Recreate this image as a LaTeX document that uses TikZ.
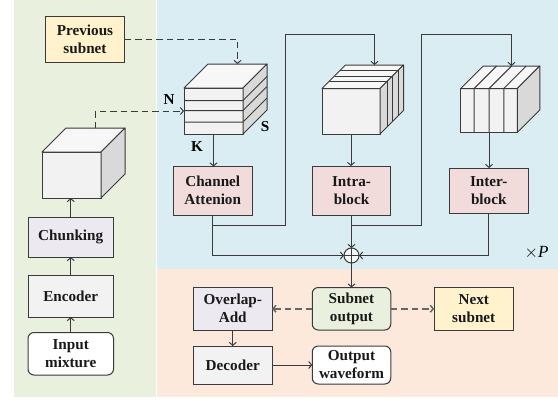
\documentclass[tikz,border=0pt]{standalone}
\usepackage{fontspec}
\setmainfont{Liberation Serif}
\usetikzlibrary{arrows.meta,calc}
\definecolor{bggreen}{HTML}{EAF0DE}
\definecolor{bgblue}{HTML}{DAEDF3}
\definecolor{bgorange}{HTML}{FCE9DC}
\definecolor{fpurple}{HTML}{ECE9F1}
\definecolor{fgray}{HTML}{F2F2F2}
\definecolor{fpink}{HTML}{F2DCDB}
\definecolor{fyellow}{HTML}{FFF2CC}
\definecolor{mline}{HTML}{3A3A3A}
\tikzset{
  mbox/.style={draw=mline,line width=1pt,align=center,inner sep=0pt,outer sep=0pt,
    font=\fontsize{15.2}{18}\selectfont\bfseries,text=black!90},
  roundbox/.style={mbox,rounded corners=6pt},
  cubeface/.style={draw=mline,line width=1pt,line join=round},
  mline/.style={draw=mline,line width=1pt},
  marrow/.style={mline,-{Straight Barb[length=3pt,width=7pt]}},
  mdash/.style={marrow,dash pattern=on 6.5pt off 4pt},
  graydash/.style={mdash,draw=black!60,line width=1.5pt},
  dimlabel/.style={inner sep=0pt,font=\fontsize{15.2}{16}\selectfont\bfseries},
}
\newcommand{\mnode}[7][mbox]{
  \node [#1,fill=#2,minimum width=#4pt,minimum height=#5pt] (#7) at #3 {#6};
}
\newcommand{\mcube}[5]{
  \node [cubeface,fill=fgray,minimum width=#2pt,minimum height=#3pt,inner sep=0pt,outer sep=0pt] (#5) at #1 {};
  \draw [cubeface,fill=black!3] (#5.north west) -- ++(#4,-#4) -- ++(#2,0) -- (#5.north east) -- cycle;
  \draw [cubeface,fill=black!15] (#5.north east) -- ++(#4,-#4) -- ++(0,#3) -- (#5.south east) -- cycle;
  \coordinate (#5top) at ($(#5.north)+(#4,-#4)$);
}

\begin{document}
\begin{tikzpicture}[x=1pt,y=-1pt]
  \path [use as bounding box] (0,0) rectangle (558,400);
  \fill [bggreen] (14,0) rectangle (155.5,397);
  \fill [bgblue] (157,0) rectangle (558,269);
  \fill [bgorange] (157,269) rectangle (558,397);

  % left column
  \mnode[roundbox]{white}{(70.75,353.75)}{85.5}{42.5}{Input\\mixture}{input}
  \mnode{fgray}{(70.75,296)}{85.5}{42}{Encoder}{enc}
  \mnode{fpurple}{(70.75,237.25)}{85.5}{39.5}{Chunking}{chunk}
  \mnode{fyellow}{(85,39.25)}{79}{45.5}{Previous\\subnet}{prev}

  % cubes
  \mcube{(71.5,175)}{59}{46}{24}{cubea}
  \mcube{(213.5,111)}{59}{46}{24}{cubeb}
  \mcube{(351,111.25)}{58}{45.5}{23.5}{cubec}
  \mcube{(489,110.5)}{56.5}{44}{22.5}{cubed}
  \foreach \y in {12.5,22.5,34}
    \draw [cubeface] (cubeb.north west) ++(0,\y) -- ++(59,0) -- ++(24,-24);
  \foreach \d in {7,12.5,18}
    \draw [cubeface] (cubec.north west) ++(\d,-\d) -- ++(58,0) -- ++(0,45.5);
  \foreach \x in {13.3,28.3,43}
    \draw [cubeface] (cubed.south west) ++(\x,0) -- ++(0,-44) -- ++(22.5,-22.5);
  \node [dimlabel] (dimn) at (169,100) {N};
  \node [dimlabel] (dims) at (265,127) {S};
  \node [dimlabel] (dimk) at (197,146.5) {K};

  % blocks
  \mnode{fpink}{(212.75,190.75)}{78.5}{48.5}{Channel\\Attenion}{chan}
  \mnode{fpink}{(351.5,190.5)}{78.5}{49}{Intra-\\block}{intra}
  \mnode{fpink}{(488.75,190.75)}{78.5}{45.5}{Inter-\\block}{inter}
  \node [draw=mline,line width=1pt,fill=white!80!bgblue,circle,minimum size=15pt,inner sep=0pt,outer sep=0pt] (sum) at (351.5,255.5) {};
  \draw [mline] (sum.north) -- (sum.south) (sum.west) -- (sum.east);

  % output
  \mnode{fpurple}{(232.75,308.75)}{78.5}{42.5}{Overlap-\\Add}{ola}
  \mnode{fgray}{(232.75,365)}{78.5}{38}{Decoder}{dec}
  \mnode[roundbox]{bggreen}{(351.5,308.75)}{78.5}{42.5}{Subnet\\output}{sub}
  \mnode{fyellow}{(473.75,308.75)}{79}{42.5}{Next\\subnet}{next}
  \mnode[roundbox]{white}{(351.5,365)}{78.5}{38}{Output\\waveform}{out}
  \node [inner sep=0pt,font=\fontsize{17}{18}\selectfont] (rep) at (536.5,252.5) {$\times$\textit{P}};

  % connectors
  \draw [marrow] (input) -- (enc);
  \draw [marrow] (enc) -- (chunk);
  \draw [marrow] (chunk.north) -- (chunk.north |- cubea.south);
  \draw [mdash] (prev.east) -| (cubebtop);
  \draw [mdash] (cubeatop) |- (cubeb.west);
  \draw [marrow] (cubeb.south) -- (cubeb.south |- chan.north);
  \draw [marrow] (cubec.south) -- (cubec.south |- intra.north);
  \draw [marrow] (cubed.south) -- (cubed.south |- inter.north);
  \coordinate (branch) at ($(chan.south)+(0,10)$);
  \coordinate (riseb) at (285.7,34);
  \coordinate (risec) at (421,34);
  \draw [marrow] (branch) -| (riseb) -| (cubectop);
  \draw [marrow] (intra.south |- branch) -| (risec) -| (cubedtop);
  \draw [marrow] (chan.south) |- (sum.west);
  \draw [marrow] (inter.south) |- (sum.east);
  \draw [marrow] (intra.south) -- (sum.north);
  \draw [marrow] (sum.south) -- (sub.north);
  \draw [graydash] (sub.west) -- (ola.east);
  \draw [graydash] (sub.east) -- (next.west);
  \draw [marrow] (ola.south) -- (dec.north);
  \draw [marrow] (dec.east) -- (out.west);
\end{tikzpicture}
\end{document}
